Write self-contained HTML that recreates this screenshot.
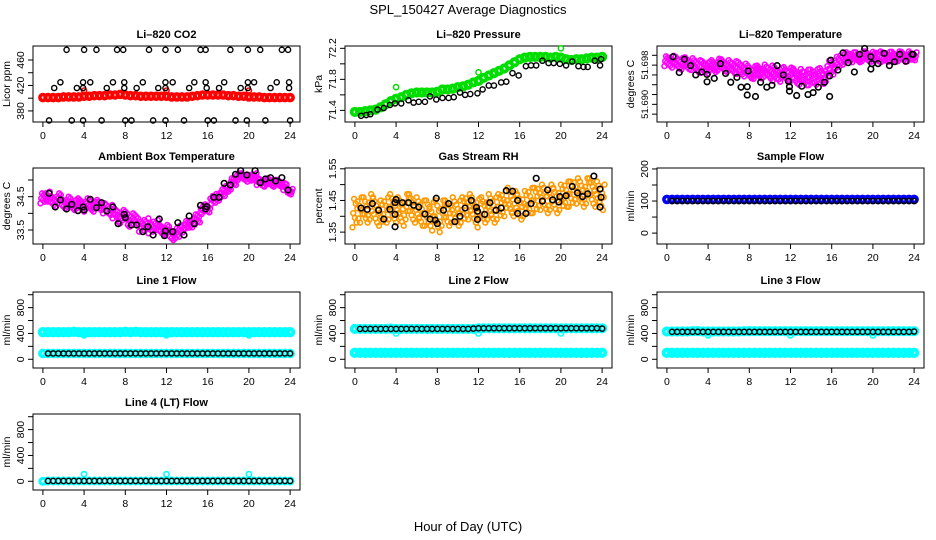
<!DOCTYPE html>
<html><head><meta charset="utf-8"><style>
html,body{margin:0;padding:0;background:#fff;}
svg{display:block;font-family:"Liberation Sans",Arial,sans-serif;}
</style></head><body>
<svg id="chart" width="936" height="540" viewBox="0 0 936 540" xmlns="http://www.w3.org/2000/svg">
<text x="468" y="14" text-anchor="middle" font-size="13">SPL_150427  Average Diagnostics</text>
<text x="468" y="531" text-anchor="middle" font-size="13">Hour of Day (UTC)</text>
</svg>
<script>
// ---------- data ----------
const hourTicks = [0,4,8,12,16,20,24];
const gridT = [0,0.5,1,1.5,2,2.5,3,3.5,4,4.5,5,5.5,6,6.5,7,7.5,8,8.5,9,9.5,10,10.5,11,11.5,12,12.5,13,13.5,14,14.5,15,15.5,16,16.5,17,17.5,18,18.5,19,19.5,20,20.5,21,21.5,22,22.5,23,23.5,24];
const blackT = [0.5,1,1.5,2,2.5,3,3.5,4,4.5,5,5.5,6,6.5,7,7.5,8,8.5,9,9.5,10,10.5,11,11.5,12,12.5,13,13.5,14,14.5,15,15.5,16,16.5,17,17.5,18,18.5,19,19.5,20,20.5,21,21.5,22,22.5,23,23.5,24];

// CO2
const co2Red = [401,401,401,401,402,402,402,402,403,403,404,404,404,405,405,406,405,404,404,403,403,403,403,403,403,402,402,402,402,403,404,405,405,405,405,405,404,404,403,403,402,402,402,401,401,401,401,401,401];
const co2BlackT = [2.3,4.0,5.2,7.2,7.8,10.3,11.9,13.1,15.3,15.8,18.2,19.9,21.1,23.2,23.8, 0.6,2.8,3.9,5.7,8.0,8.6,10.7,11.9,13.7,16.0,16.6,18.7,19.8,21.6,24.0, 1.7,3.9,4.6,6.8,7.9,9.7,11.9,12.6,14.7,15.8,17.6,19.9,20.5,22.7,23.9, 1.1,3.3,3.9,6.2,7.9,9.1,11.2,11.9,14.2,15.9,17.1,19.2,19.9,22.1,23.9];
const co2BlackV = [476,476,476,476,476,476,476,476,476,476,476,476,476,476,476, 365,365,365,365,365,365,365,365,365,365,365,365,365,365,365, 425,425,425,425,425,425,425,425,425,425,425,425,425,425,425, 416,416,416,416,416,416,416,416,416,416,416,416,416,416,416];
const co2OutT = [4.0,12.0,20.0];
const co2OutV = [412,412,412];

// Pressure
const presGreen = [71.38,71.38,71.39,71.40,71.41,71.44,71.48,71.52,71.55,71.57,71.60,71.62,71.63,71.63,71.63,71.63,71.64,71.67,71.67,71.68,71.70,71.71,71.73,71.76,71.78,71.82,71.85,71.88,71.91,71.94,71.98,72.02,72.06,72.08,72.09,72.09,72.09,72.09,72.08,72.09,72.08,72.06,72.05,72.06,72.06,72.07,72.08,72.08,72.09];
const presBlackT = [0.6,1.1,1.5,2.2,2.8,3.4,3.9,4.5,5.2,5.7,6.2,6.8,7.3,7.9,8.5,9.1,9.6,10.2,10.7,11.2,11.9,12.4,13.0,13.5,14.2,14.7,15.3,15.9,16.6,17.1,17.6,18.2,18.8,19.3,19.9,20.5,21.1,21.7,22.2,22.6,23.3,23.8,23.9];
const presBlackV = [71.33,71.34,71.35,71.41,71.43,71.47,71.49,71.49,71.53,71.50,71.51,71.51,71.58,71.54,71.56,71.56,71.57,71.63,71.60,71.61,71.62,71.67,71.72,71.72,71.76,71.77,71.88,71.85,71.97,71.98,71.98,72.04,72.01,72.01,72.00,71.98,72.03,71.97,71.96,71.96,72.04,71.98,72.06];
const presOutT = [4.0,12.0,20.0];
const presOutV = [71.70,71.89,72.20];

// Li-820 temperature
const tempMid = [51.6988,51.6987,51.6985,51.6983,51.6984,51.6982,51.6978,51.6976,51.6975,51.6978,51.6981,51.6980,51.6978,51.6976,51.6974,51.6970,51.6966,51.6965,51.6966,51.6968,51.6966,51.6962,51.6960,51.6962,51.6960,51.6958,51.6956,51.6955,51.6955,51.6956,51.6958,51.6962,51.6975,51.6985,51.6992,51.6996,51.6996,51.6996,51.6998,51.6998,51.6997,51.6998,51.6996,51.6997,51.6997,51.6998,51.6997,51.6998,51.6998];
const tempSpread = [0.0010,0.0012,0.0012,0.0012,0.0012,0.0012,0.0012,0.0012,0.0012,0.0012,0.0012,0.0012,0.0012,0.0012,0.0012,0.0013,0.0013,0.0013,0.0013,0.0013,0.0013,0.0014,0.0014,0.0014,0.0015,0.0015,0.0016,0.0016,0.0016,0.0016,0.0016,0.0016,0.0014,0.0012,0.0011,0.0010,0.0010,0.0010,0.0010,0.0010,0.0010,0.0010,0.0010,0.0010,0.0010,0.0010,0.0010,0.0010,0.0008];
const tempBlackT = [0.6,1.2,1.7,2.3,2.8,3.4,3.9,3.9,4.6,5.2,5.7,6.2,6.8,7.2,7.8,7.9,7.8,8.6,9.1,9.7,10.2,10.7,11.3,11.8,11.9,11.9,12.6,13.1,13.7,14.2,14.7,15.3,15.8,15.8,15.9,16.6,17.1,17.6,18.2,18.7,19.2,19.8,19.9,19.8,20.5,21.1,21.6,22.1,22.6,23.2,23.8,23.9];
const tempBlackV = [51.6997,51.6965,51.6992,51.6979,51.6960,51.6966,51.6961,51.6946,51.6953,51.6983,51.6963,51.6945,51.6955,51.6935,51.6936,51.6968,51.6919,51.6916,51.6945,51.6935,51.6939,51.6979,51.6960,51.6947,51.6927,51.6936,51.6918,51.6937,51.6920,51.6924,51.6935,51.6945,51.6958,51.6916,51.6990,51.6970,51.7005,51.6985,51.6966,51.7002,51.7014,51.6997,51.6983,51.6972,51.6983,51.7004,51.6979,51.6987,51.7002,51.6988,51.7002,51.7002];

// Ambient box temperature
const ambMid = [34.45,34.5,34.35,34.45,34.3,34.35,34.25,34.3,34.2,34.3,34.2,34.25,34.15,34.1,34.0,33.85,33.95,33.75,33.85,33.6,33.7,33.55,33.65,33.5,33.5,33.35,33.4,33.55,33.65,33.7,33.85,34.1,34.15,34.4,34.5,34.6,34.75,34.95,35.1,35.1,35.05,35.1,34.95,34.9,34.95,34.9,34.9,34.8,34.65];
const ambSpread = [0.15,0.15,0.15,0.15,0.15,0.15,0.15,0.15,0.15,0.15,0.15,0.15,0.15,0.15,0.15,0.15,0.15,0.15,0.15,0.15,0.15,0.15,0.15,0.15,0.15,0.15,0.15,0.12,0.12,0.12,0.12,0.12,0.12,0.12,0.12,0.12,0.1,0.1,0.1,0.1,0.1,0.1,0.1,0.1,0.1,0.1,0.1,0.1,0.08];
const ambBlackT = [0.6,1.2,1.7,2.3,2.8,3.4,3.9,4.0,4.6,5.2,5.7,6.2,6.8,7.3,7.9,8.0,8.6,9.1,9.7,10.2,10.7,11.3,11.8,11.9,12.6,13.1,13.7,14.2,14.7,15.3,15.8,15.9,16.6,17.1,17.6,18.2,18.7,19.2,19.8,20.6,21.1,21.6,22.1,22.6,23.2,23.8];
const ambBlackV = [34.6,34.19,34.4,34.13,34.27,34.08,34.19,34.1,34.42,34.17,34.32,34.07,34.19,33.69,33.97,33.87,33.65,33.65,33.45,33.6,33.35,33.83,33.33,33.47,33.45,33.72,33.35,33.92,33.69,34.24,34.13,34.2,34.48,34.48,34.9,34.85,35.17,35.28,35.15,35.28,34.92,35.03,35.07,34.97,35.07,34.7];

// Gas stream RH
const rhMid = [1.41,1.42,1.42,1.43,1.42,1.41,1.42,1.43,1.42,1.41,1.43,1.43,1.42,1.41,1.41,1.40,1.40,1.41,1.41,1.42,1.41,1.42,1.43,1.42,1.41,1.42,1.43,1.42,1.43,1.44,1.45,1.44,1.43,1.44,1.45,1.45,1.46,1.45,1.46,1.45,1.46,1.47,1.47,1.48,1.47,1.48,1.48,1.47,1.46];
const rhSpread = [0.045,0.04,0.04,0.04,0.04,0.04,0.04,0.04,0.04,0.04,0.04,0.04,0.04,0.04,0.04,0.045,0.05,0.04,0.04,0.04,0.04,0.04,0.04,0.04,0.045,0.04,0.04,0.04,0.04,0.04,0.04,0.04,0.04,0.04,0.04,0.04,0.04,0.04,0.04,0.04,0.04,0.04,0.04,0.04,0.04,0.04,0.04,0.04,0.04];
const rhBlackT = [0.6,1.2,1.7,2.3,2.8,3.4,3.9,3.9,4.0,3.9,4.6,5.2,5.7,6.2,6.8,7.3,7.8,7.9,8.0,8.6,9.1,9.7,10.2,10.7,11.3,11.8,11.9,11.9,12.6,13.1,13.7,14.2,14.7,15.3,15.8,15.8,16.6,17.1,17.6,18.2,18.7,19.2,19.8,19.9,20.5,21.1,21.6,22.1,22.6,23.2,23.8,23.9,23.8];
const rhBlackV = [1.426,1.422,1.44,1.419,1.391,1.422,1.443,1.406,1.453,1.367,1.443,1.443,1.435,1.429,1.407,1.391,1.388,1.457,1.377,1.419,1.44,1.383,1.4,1.426,1.45,1.428,1.39,1.416,1.406,1.443,1.419,1.426,1.481,1.479,1.45,1.409,1.409,1.44,1.52,1.448,1.483,1.452,1.445,1.462,1.465,1.494,1.474,1.462,1.471,1.527,1.486,1.46,1.429];

// Flows
const sampleBlue = [105,105,105,105,105,105,105,105,105,105,105,105,105,105,105,105,105,105,105,105,105,105,105,105,105,105,105,105,105,105,105,105,105,105,105,105,105,105,105,105,105,105,105,105,105,105,105,105,105];
const sampleBlack = [100,100,100,100,100,100,100,100,100,100,100,100,100,100,100,100,100,100,100,100,100,100,100,100,100,100,100,100,100,100,100,100,100,100,100,100,100,100,100,100,100,100,100,100,100,100,100,100];
const line1CyanHi = [420,420,420,420,420,420,425,420,420,420,420,420,420,420,420,420,425,420,425,420,420,420,420,420,420,420,420,420,420,420,420,420,420,420,420,420,420,420,420,420,420,420,420,420,420,420,420,420,420];
const line1CyanLo = [90,90,90,90,90,90,90,90,90,90,90,90,90,90,90,90,90,90,90,90,90,90,90,90,90,90,90,90,90,90,90,90,90,90,90,90,90,90,90,90,90,90,90,90,90,90,90,90,90];
const line1Black = [90,90,90,90,90,90,90,90,90,90,90,90,90,90,90,90,90,90,90,90,90,90,90,90,90,90,90,90,90,90,90,90,90,90,90,90,90,90,90,90,90,90,90,90,90,90,90,90];
const line2CyanHi = [470,470,470,470,470,470,470,475,470,470,470,470,470,470,470,470,470,470,470,470,470,470,470,470,480,480,480,480,480,480,480,480,480,480,480,480,480,480,480,480,480,480,480,480,480,480,480,480,480];
const line2CyanLo = [100,100,100,100,100,100,100,100,100,100,100,100,100,100,100,100,100,100,100,100,100,100,100,100,100,100,100,100,100,100,100,100,100,100,100,100,100,100,100,100,100,100,100,100,100,100,100,100,100];
const line2Black = [470,470,470,470,470,470,470,470,470,470,470,470,470,470,470,470,470,470,470,470,470,470,475,480,480,480,480,480,480,480,480,480,480,480,480,480,480,480,480,480,480,480,480,480,480,480,480,475];
const line3CyanHi = [430,430,430,430,430,435,435,430,430,430,430,430,430,430,430,435,435,435,435,435,435,435,435,435,435,435,435,435,435,435,435,435,435,435,435,435,435,435,435,435,435,435,435,435,435,435,435,435,435];
const line3CyanLo = [100,100,100,100,100,100,100,100,100,100,100,100,100,100,100,100,100,100,100,100,100,100,100,100,100,100,100,100,100,100,100,100,100,100,100,100,100,100,100,100,100,100,100,100,100,100,100,100,100];
const line3Black = [425,425,425,425,425,425,425,425,425,425,425,425,425,425,425,425,425,425,425,425,425,425,425,425,425,425,425,425,425,425,425,425,425,425,425,425,425,425,425,425,425,425,425,425,425,425,425,430];
const line4Cyan = [0,5,5,5,5,5,5,5,5,5,5,5,5,5,5,5,5,5,5,5,5,5,5,5,5,5,5,5,5,5,5,5,5,5,5,5,5,5,5,5,5,5,5,5,5,5,5,5,5];
const line4Black = [5,5,5,5,5,5,5,5,5,5,5,5,5,5,5,5,5,5,5,5,5,5,5,5,5,5,5,5,5,5,5,5,5,5,5,5,5,5,5,5,5,5,5,5,5,5,5,5];
const dipT = [4.0,12.0,20.0];
const line1Dip = [370,370,370];
const line2Dip = [400,400,400];
const line3Dip = [370,370,370];
const line4Out = [110,110,110];

// ---------- drawing ----------
const svg = document.getElementById('chart');
const NS = 'http://www.w3.org/2000/svg';
const colLeft = [33,345,657];
const rowTop = [46,168,292,414];
const W = 267, H = 76;

function mk(tag, attrs, parent){
  const e = document.createElementNS(NS, tag);
  for (const k in attrs) e.setAttribute(k, attrs[k]);
  (parent||svg).appendChild(e);
  return e;
}

function panel(key, title, ylab, col, row, dom, ticks, labels, lblSize){
  const fs = lblSize || 10.5;
  const g = mk('g', {});
  
  
  const x0 = colLeft[col], y0 = rowTop[row];
  const xs = h => x0 + (h + 0.96) / 25.92 * W;
  const ys = v => y0 + H - (v - dom[0]) / (dom[1] - dom[0]) * H;
  const t = mk('text', {x: x0 + W/2, y: y0 - 8, 'text-anchor':'middle', 'font-size':'11', 'font-weight':'bold'}, g);
  t.textContent = title;
  
  
  const yl = mk('text', {x: 0, y: 0, 'text-anchor':'middle', 'font-size':'10.5', transform:`translate(${x0-23},${y0+H/2}) rotate(-90)`}, g);
  yl.textContent = ylab;
  
  
  const box = mk('rect', {x:x0, y:y0, width:W, height:H, fill:'none', stroke:'#000', 'stroke-width':'1'}, g);
  
  
  hourTicks.forEach(h => {
    const tk = mk('line', {x1:xs(h), x2:xs(h), y1:y0+H, y2:y0+H+5, stroke:'#000'}, g);
    
    
    const tl = mk('text', {x:xs(h), y:y0+H+17, 'text-anchor':'middle', 'font-size':'10.5'}, g);
    tl.textContent = h;
    
    
  });
  ticks.forEach(v => {
    const tk = mk('line', {x1:x0-5, x2:x0, y1:ys(v), y2:ys(v), stroke:'#000'}, g);
    
    
  });
  labels.forEach(v => {
    const tl = mk('text', {x:0, y:0, 'text-anchor':'middle', 'font-size':fs, transform:`translate(${x0-9},${ys(v)}) rotate(-90)`}, g);
    tl.textContent = v;
    
    
  });
  const pts = mk('g', {}, g);
  
  
  return {
    pts(ts, vs, color, r, sw, name){
      ts.forEach((h, i) => {
        const c = mk('circle', {cx:xs(h), cy:ys(vs[i]), r:r, fill:'none', stroke:color, 'stroke-width':sw}, pts);
        
        
      });
    },
    cloud(ts, mids, spreads, color, name){
      const offs = [-1, -0.67, -0.33, 0, 0.33, 0.67, 1];
      ts.forEach((h, i) => {
        offs.forEach((k, j) => {
          const dt = ((j * 5 + i * 3) % 7 - 3) * 0.08;
          const c = mk('circle', {cx:xs(h + dt), cy:ys(mids[i] + k * spreads[i]), r:2.4, fill:'none', stroke:color, 'stroke-width':1.6}, pts);
          
          
        });
      });
    }
  };
}

// Row 1
let p = panel('co2', 'Li\u2013820 CO2', 'Licor ppm', 0, 0, [362.6, 482], [380,400,420,440,460], [380,420,460]);
p.pts(gridT, co2Red, '#ff0000', 3, 3.6, 'co2-red-point');
p.pts(co2OutT, co2OutV, '#ff0000', 2.6, 1.5, 'co2-red-outlier');
p.pts(co2BlackT, co2BlackV, '#000', 2.6, 1.4, 'co2-black-point');

p = panel('pressure', 'Li\u2013820 Pressure', 'kPa', 1, 0, [71.25, 72.23], [71.4,71.6,71.8,72.0,72.2], [71.4,71.8,72.2]);
p.pts(gridT, presGreen, '#00dd00', 3.2, 3.8, 'pressure-green-point');
p.pts(presOutT, presOutV, '#00dd00', 2.6, 1.5, 'pressure-green-outlier');
p.pts(presBlackT, presBlackV, '#000', 2.6, 1.4, 'pressure-black-point');

p = panel('li820-temp', 'Li\u2013820 Temperature', 'degrees C', 2, 0, [51.6864, 51.7019], [51.688,51.690,51.692,51.694,51.696,51.698,51.700], ['51.690','51.698'], 9.5);
p.cloud(gridT, tempMid, tempSpread, '#ff00ff', 'li820-temp-magenta-point');
p.pts(tempBlackT, tempBlackV, '#000', 2.8, 1.6, 'li820-temp-black-point');

// Row 2
p = panel('ambient', 'Ambient Box Temperature', 'degrees C', 0, 1, [33.08, 35.36], [33.5,34.0,34.5,35.0], ['33.5','34.5']);
p.cloud(gridT, ambMid, ambSpread, '#ff00ff', 'ambient-magenta-point');
p.pts(ambBlackT, ambBlackV, '#000', 2.8, 1.6, 'ambient-black-point');

p = panel('rh', 'Gas Stream RH', 'percent', 1, 1, [1.3125, 1.5525], [1.35,1.40,1.45,1.50,1.55], ['1.35','1.45','1.55']);
p.cloud(gridT, rhMid, rhSpread, '#ff9900', 'rh-orange-point');
p.pts(rhBlackT, rhBlackV, '#000', 2.8, 1.6, 'rh-black-point');

p = panel('sample-flow', 'Sample Flow', 'ml/min', 2, 1, [-34, 203], [0,50,100,150,200], [0,100,200]);
p.pts(gridT, sampleBlue, '#0000ff', 3, 3.6, 'sample-flow-blue-point');
p.pts(blackT, sampleBlack, '#000', 2.6, 1.5, 'sample-flow-black-point');

// Row 3
const fDom = [-135, 1042], fTicks = [0,200,400,600,800,1000], fLabels = [0,400,800];
p = panel('line1', 'Line 1 Flow', 'ml/min', 0, 2, fDom, fTicks, fLabels);
p.pts(gridT, line1CyanHi, '#00ffff', 3.2, 4, 'line1-cyan-high-point');
p.pts(dipT, line1Dip, '#00ffff', 2.6, 1.5, 'line1-cyan-dip');
p.pts(gridT, line1CyanLo, '#00ffff', 3, 3.6, 'line1-cyan-low-point');
p.pts(blackT, line1Black, '#000', 2.6, 1.4, 'line1-black-point');

p = panel('line2', 'Line 2 Flow', 'ml/min', 1, 2, fDom, fTicks, fLabels);
p.pts(gridT, line2CyanHi, '#00ffff', 3.2, 3.8, 'line2-cyan-high-point');
p.pts(dipT, line2Dip, '#00ffff', 2.6, 1.5, 'line2-cyan-dip');
p.pts(gridT, line2CyanLo, '#00ffff', 3.2, 4, 'line2-cyan-low-point');
p.pts(blackT, line2Black, '#000', 2.6, 1.4, 'line2-black-point');

p = panel('line3', 'Line 3 Flow', 'ml/min', 2, 2, fDom, fTicks, fLabels);
p.pts(gridT, line3CyanHi, '#00ffff', 3.2, 3.8, 'line3-cyan-high-point');
p.pts(dipT, line3Dip, '#00ffff', 2.6, 1.5, 'line3-cyan-dip');
p.pts(gridT, line3CyanLo, '#00ffff', 3.2, 4, 'line3-cyan-low-point');
p.pts(blackT, line3Black, '#000', 2.6, 1.4, 'line3-black-point');

// Row 4
p = panel('line4', 'Line 4 (LT) Flow', 'ml/min', 0, 3, fDom, fTicks, fLabels);
p.pts(gridT, line4Cyan, '#00ffff', 3, 3, 'line4-cyan-point');
p.pts(dipT, line4Out, '#00ffff', 2.6, 1.6, 'line4-cyan-outlier');
p.pts(blackT, line4Black, '#000', 2.6, 1.4, 'line4-black-point');
</script>
</body></html>
